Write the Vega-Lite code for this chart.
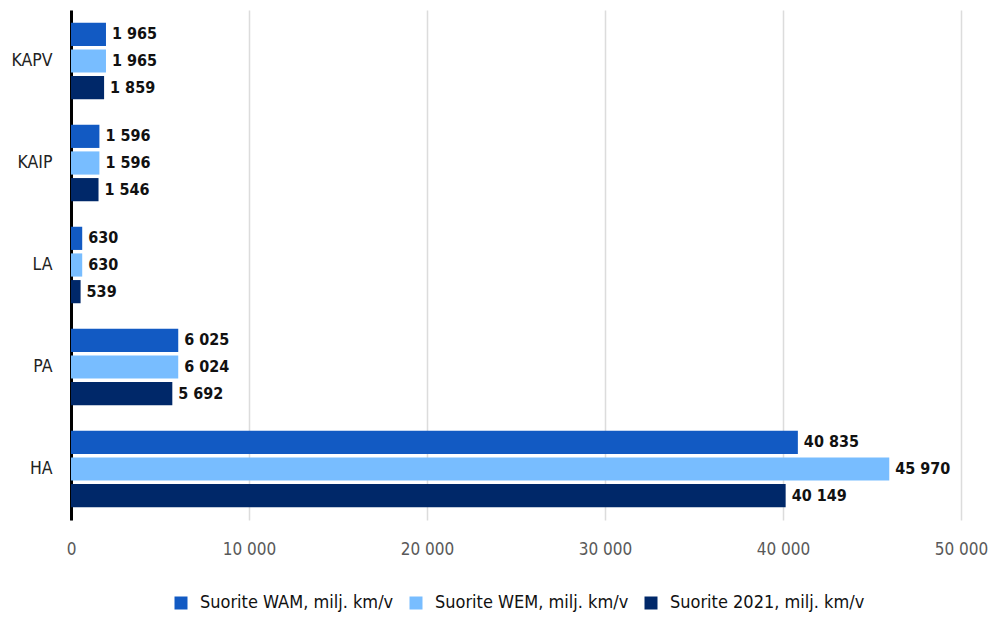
{
  "$schema": "https://vega.github.io/schema/vega-lite/v6.json",
  "width": 890,
  "height": 510,
  "autosize": {"type": "none"},
  "padding": {"left": 71, "top": 10, "right": 30, "bottom": 97},
  "background": "white",
  "config": {
    "font": "DejaVu Sans Condensed, sans-serif",
    "locale": {"number": {"decimal": ",", "thousands": " ", "grouping": [3], "currency": ["", " €"]}},
    "view": {"stroke": null}
  },
  "data": {
    "values": [
      {"luokka": "KAPV", "sarja": "Suorite WAM, milj. km/v", "arvo": 1965},
      {"luokka": "KAPV", "sarja": "Suorite WEM, milj. km/v", "arvo": 1965},
      {"luokka": "KAPV", "sarja": "Suorite 2021, milj.  km/v", "arvo": 1859},
      {"luokka": "KAIP", "sarja": "Suorite WAM, milj. km/v", "arvo": 1596},
      {"luokka": "KAIP", "sarja": "Suorite WEM, milj. km/v", "arvo": 1596},
      {"luokka": "KAIP", "sarja": "Suorite 2021, milj.  km/v", "arvo": 1546},
      {"luokka": "LA", "sarja": "Suorite WAM, milj. km/v", "arvo": 630},
      {"luokka": "LA", "sarja": "Suorite WEM, milj. km/v", "arvo": 630},
      {"luokka": "LA", "sarja": "Suorite 2021, milj.  km/v", "arvo": 539},
      {"luokka": "PA", "sarja": "Suorite WAM, milj. km/v", "arvo": 6025},
      {"luokka": "PA", "sarja": "Suorite WEM, milj. km/v", "arvo": 6024},
      {"luokka": "PA", "sarja": "Suorite 2021, milj.  km/v", "arvo": 5692},
      {"luokka": "HA", "sarja": "Suorite WAM, milj. km/v", "arvo": 40835},
      {"luokka": "HA", "sarja": "Suorite WEM, milj. km/v", "arvo": 45970},
      {"luokka": "HA", "sarja": "Suorite 2021, milj.  km/v", "arvo": 40149}
    ]
  },
  "encoding": {
    "y": {
      "field": "luokka",
      "type": "nominal",
      "sort": ["KAPV", "KAIP", "LA", "PA", "HA"],
      "scale": {"paddingInner": 0.25, "paddingOuter": 0.125},
      "axis": {
        "title": null,
        "domain": true,
        "domainColor": "#000000",
        "domainWidth": 3,
        "ticks": false,
        "labelPadding": 19,
        "labelFontSize": 17.5,
        "labelColor": "#222222",
        "grid": false
      }
    },
    "yOffset": {
      "field": "sarja",
      "type": "nominal",
      "sort": ["Suorite WAM, milj. km/v", "Suorite WEM, milj. km/v", "Suorite 2021, milj.  km/v"],
      "scale": {"paddingInner": 0.13, "paddingOuter": 0}
    },
    "x": {
      "field": "arvo",
      "type": "quantitative",
      "scale": {"domain": [0, 50000], "nice": false},
      "axis": {
        "title": null,
        "values": [0, 10000, 20000, 30000, 40000, 50000],
        "format": ",d",
        "domain": false,
        "ticks": false,
        "labelFlush": false,
        "labelPadding": 21,
        "labelFontSize": 17,
        "labelColor": "#595959",
        "grid": true,
        "gridColor": "#dcdcdc",
        "gridWidth": 1.5
      }
    },
    "color": {
      "field": "sarja",
      "type": "nominal",
      "sort": ["Suorite WAM, milj. km/v", "Suorite WEM, milj. km/v", "Suorite 2021, milj.  km/v"],
      "scale": {
        "domain": ["Suorite WAM, milj. km/v", "Suorite WEM, milj. km/v", "Suorite 2021, milj.  km/v"],
        "range": ["#125AC3", "#78BDFF", "#002869"]
      },
      "legend": {
        "title": null,
        "orient": "none",
        "direction": "horizontal",
        "legendX": 101,
        "legendY": 584,
        "symbolType": "square",
        "symbolSize": 169,
        "symbolStrokeWidth": 0,
        "labelFontSize": 18,
        "labelColor": "#111111",
        "labelLimit": 0,
        "labelOffset": 10,
        "columnPadding": 13
      }
    }
  },
  "layer": [
    {"mark": {"type": "bar", "x": 1.5}},
    {
      "mark": {"type": "text", "align": "left", "baseline": "middle", "dx": 6, "fontSize": 16, "fontWeight": "bold", "color": "#111111"},
      "encoding": {
        "text": {"field": "arvo", "type": "quantitative", "format": ",d"},
        "color": {"value": "#111111"}
      }
    }
  ]
}
